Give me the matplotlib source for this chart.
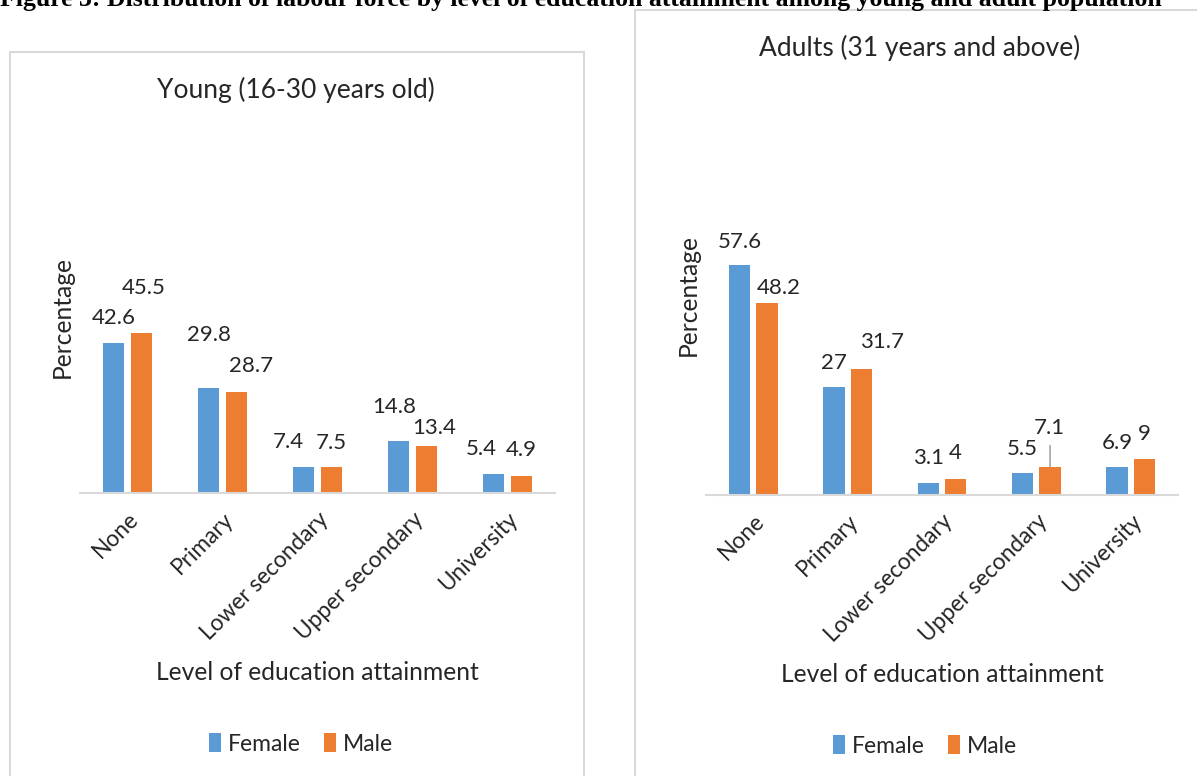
import matplotlib
matplotlib.use("Agg")
import matplotlib.pyplot as plt
from matplotlib.patches import Rectangle

plt.rcParams['font.family'] = ['Lato', 'DejaVu Sans']

# ---- data ----
categories = ["None", "Primary", "Lower secondary", "Upper secondary", "University"]
series_names = ["Female", "Male"]
young_female = [42.6, 29.8, 7.4, 14.8, 5.4]
young_male = [45.5, 28.7, 7.5, 13.4, 4.9]
adult_female = [57.6, 27, 3.1, 5.5, 6.9]
adult_male = [48.2, 31.7, 4, 7.1, 9]
young_title = "Young (16-30 years old)"
adult_title = "Adults (31 years and above)"
x_label = "Level of education attainment"
y_label = "Percentage"
fig_title = ("Figure 3: Distribution of labour force by level of education attainment "
             "among young and adult population")

# ---- style ----
W, H = 1197, 776
BLUE = "#5B9BD5"
ORANGE = "#ED7D31"
GRID = "#D9D9D9"
TXT = "#262626"
LBL = 16
TICK = 16.3
AXL = 17.7

# label offsets in pixels (dx, dy above bar top)
young_f_off = [(0, 25), (0, 53), (-15, 25), (-5, 34), (-12, 25)]
young_m_off = [(2, 45), (15, 26), (0, 24), (8, 18), (0, 26)]
adult_f_off = [(0, 23), (0, 24), (0, 25), (0, 24), (0, 24)]
adult_m_off = [(12, 15), (21, 27), (0, 26), (-1, 39), (0, 25)]

fig = plt.figure(figsize=(W / 100, H / 100), dpi=100)
fig.patch.set_facecolor("white")


def px_axes(x0, x1, ybase, ytop_val, ppu):
    h = ytop_val * ppu
    return fig.add_axes([x0 / W, 1 - ybase / H, (x1 - x0) / W, h / H])


def draw_panel(ax, fem, mal, foff, moff, ymax, leader=None):
    idx = list(range(len(categories)))
    bw = 0.225
    off = 0.145
    xf = [i - off for i in idx]
    xm = [i + off for i in idx]
    ax.bar(xf, fem, width=bw, color=BLUE, label=series_names[0], zorder=2)
    ax.bar(xm, mal, width=bw, color=ORANGE, label=series_names[1], zorder=2)
    ax.set_xlim(-0.5, len(categories) - 0.5)
    ax.set_ylim(0, ymax)
    for s in ["top", "right", "left"]:
        ax.spines[s].set_visible(False)
    ax.spines["bottom"].set_color(GRID)
    ax.spines["bottom"].set_linewidth(1.5)
    ax.set_yticks([])
    ax.set_xticks(idx)
    ax.set_xticklabels(categories, rotation=45, ha="right", va="top",
                       rotation_mode="anchor", fontsize=TICK, color=TXT)
    ax.tick_params(axis="x", length=0, pad=11)
    ax.patch.set_alpha(0)
    for xs, vals, offs in ((xf, fem, foff), (xm, mal, moff)):
        for x, v, (dx, dy) in zip(xs, vals, offs):
            ax.annotate(f"{v:g}", xy=(x, v), xytext=(dx, dy),
                        textcoords="offset pixels", ha="center", va="center",
                        fontsize=LBL, color=TXT, annotation_clip=False)
    if leader is not None:
        i, length = leader
        ax.annotate("", xy=(xm[i], mal[i]), xytext=(0, length),
                    textcoords="offset pixels",
                    arrowprops=dict(arrowstyle="-", color="#A6A6A6", lw=1.2,
                                    shrinkA=0, shrinkB=0),
                    annotation_clip=False)


# Left panel
ax1 = px_axes(80, 555, 493, 50, 3.52)
draw_panel(ax1, young_female, young_male, young_f_off, young_m_off, 50)
# Right panel
ax2 = px_axes(706, 1178, 495, 70, 3.99)
draw_panel(ax2, adult_female, adult_male, adult_f_off, adult_m_off, 70, leader=(3, 21))

# Panel borders
for (x0, y0, x1, y1) in [(10, 52, 584, 790), (635, 10, 1210, 790)]:
    fig.patches.append(Rectangle((x0 / W, 1 - y1 / H), (x1 - x0) / W, (y1 - y0) / H,
                                 transform=fig.transFigure, fill=False,
                                 edgecolor=GRID, lw=1.5))

# Titles, axis labels
fig.text(296 / W, 1 - 90 / H, young_title, ha="center", va="center", fontsize=19, color=TXT)
fig.text(920 / W, 1 - 48 / H, adult_title, ha="center", va="center", fontsize=19, color=TXT)
fig.text(317 / W, 1 - 672 / H, x_label, ha="center", va="center", fontsize=AXL, color=TXT)
fig.text(942 / W, 1 - 674 / H, x_label, ha="center", va="center", fontsize=AXL, color=TXT)
fig.text(62 / W, 1 - 317 / H, y_label, ha="center", va="center", rotation=90,
         fontsize=AXL, color=TXT)
fig.text(688 / W, 1 - 295 / H, y_label, ha="center", va="center", rotation=90,
         fontsize=AXL, color=TXT)

# Legends
for ax, cx, cy in [(ax1, 301, 744), (ax2, 925, 746)]:
    handles, labels = ax.get_legend_handles_labels()
    fig.legend(handles, labels, loc="center", bbox_to_anchor=(cx / W, 1 - cy / H),
               ncol=2, frameon=False, fontsize=16.5, handlelength=0.55,
               handleheight=0.85, handletextpad=0.3, columnspacing=1.0,
               labelcolor=TXT)

# Cut-off figure caption at top (as in the reference)
t = fig.text(0, 1 - 6 / H, fig_title, ha="left", va="baseline",
             fontsize=16, fontweight="bold", family=["Liberation Serif", "DejaVu Serif"])
fig.canvas.draw()
bb = t.get_window_extent()
t.set_fontsize(16 * 1165 / bb.width)

fig.savefig("out.png", dpi=100, facecolor="white")
